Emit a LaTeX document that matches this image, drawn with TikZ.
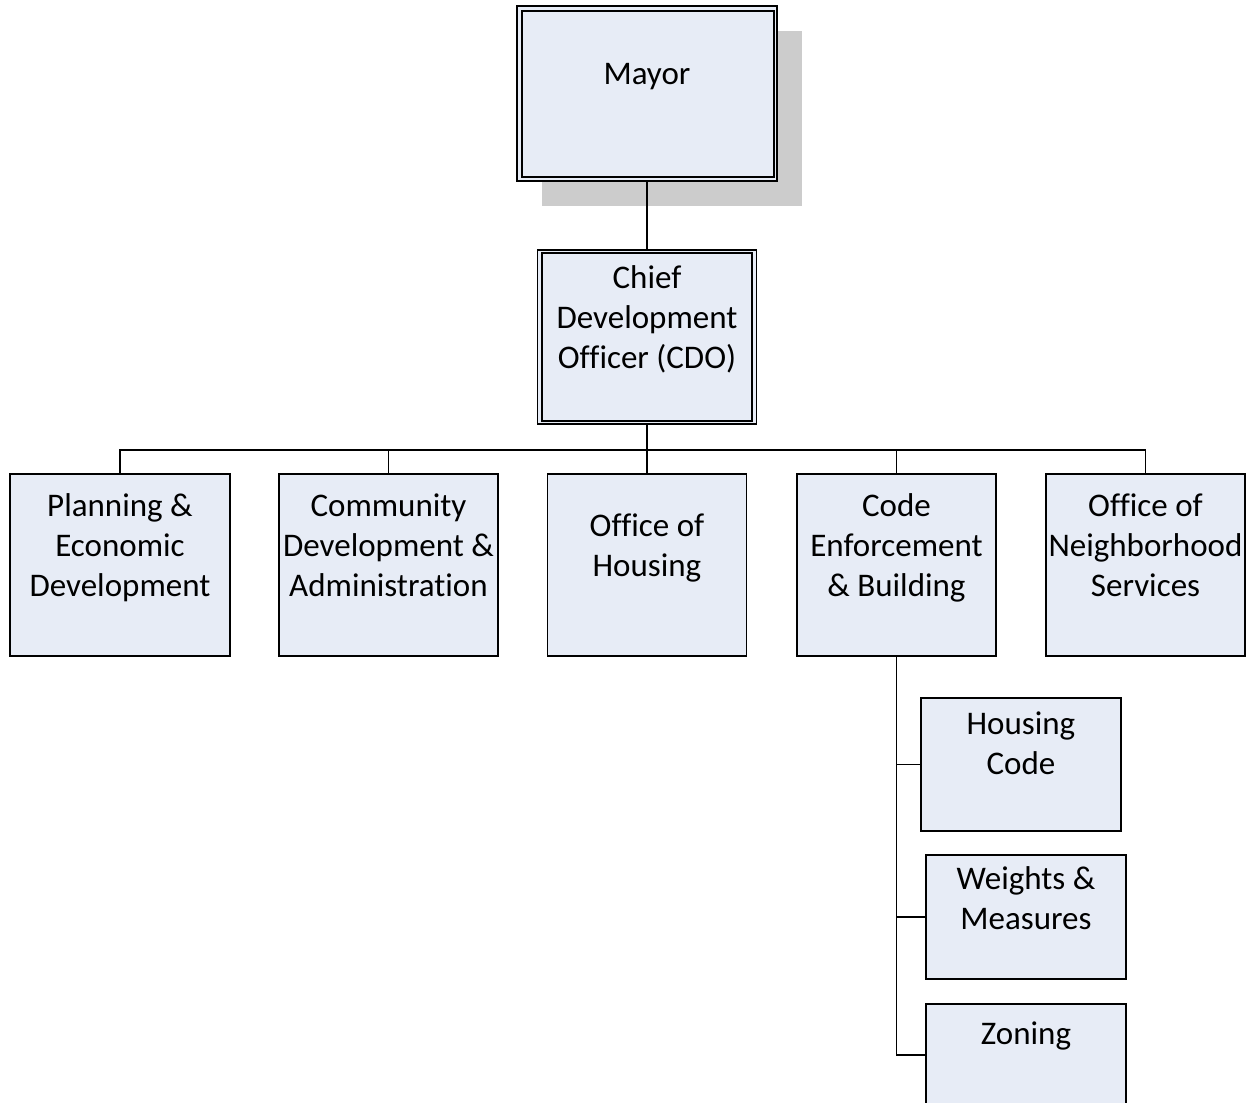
\documentclass[tikz,border=0pt]{standalone}
\usepackage{fontspec}
\setmainfont{Carlito}[Ligatures=NoCommon]
\usetikzlibrary{shadows,calc}
\definecolor{boxfill}{HTML}{E7ECF6}
\definecolor{shadowgray}{HTML}{CCCCCC}
\begin{document}
\begin{tikzpicture}[x=1pt,y=-1pt,
  box/.style={draw=black, line width=1.5pt, fill=boxfill, rectangle, inner sep=0pt},
  txt/.style={font=\fontsize{33}{40}\selectfont, align=center, inner sep=0pt},
  conn/.style={draw=black, line width=1.6pt},
  innerline/.style={draw=black, line width=2pt}]
\clip (0,0) rectangle (1251,1103);
% top level
\node[box, minimum width=260pt, minimum height=175pt,
      drop shadow={shadow xshift=25pt, shadow yshift=-25pt, fill=shadowgray, opacity=1}] (mayor) at (647,93.5) {};
\draw[innerline] ([shift={(6,6)}]mayor.north west) rectangle ([shift={(-4,-5)}]mayor.south east);
\node[txt] (mayorT) at (647,76) {\strut Mayor\strut};
% CDO
\node[box, minimum width=219pt, minimum height=174pt] (cdo) at (647,337) {};
\draw[innerline] ([shift={(5,4)}]cdo.north west) rectangle ([shift={(-5,-4)}]cdo.south east);
\node[txt] (cdoT) at (647,320) {\strut Chief\\Development\\Officer (CDO)\strut};
% second level
\node[box, minimum width=220pt, minimum height=182pt] (plan) at (120,565) {};
\node[box, minimum width=219pt, minimum height=182pt] (comm) at (388.5,565) {};
\node[box, minimum width=199pt, minimum height=182pt] (hous) at (647,565) {};
\node[box, minimum width=199pt, minimum height=182pt] (code) at (896.5,565) {};
\node[box, minimum width=199pt, minimum height=182pt] (nbhd) at (1145.5,565) {};
\node[txt] (planT) at (120,548) {\strut Planning \&\\Economic\\Development\strut};
\node[txt] (commT) at (388.5,548) {\strut Community\\Development \&\\Administration\strut};
\node[txt] (housT) at (647,548) {\strut Office of\\Housing\strut};
\node[txt] (codeT) at (896.5,548) {\strut Code\\Enforcement\\\& Building\strut};
\node[txt] (nbhdT) at (1145.5,548) {\strut Office of\\Neighborhood\\Services\strut};
% third level
\node[box, minimum width=200pt, minimum height=133pt] (hc) at (1021,764.5) {};
\node[box, minimum width=200pt, minimum height=124pt] (wm) at (1026,917) {};
\node[box, minimum width=200pt, minimum height=102pt] (zon) at (1026,1055) {};
\node[txt] (hcT) at (1021,746) {\strut Housing\\Code\strut};
\node[txt] (wmT) at (1026,901) {\strut Weights \&\\Measures\strut};
\node[txt] (zonT) at (1026,1036) {\strut Zoning\strut};
% connectors
\draw[conn] (mayor.south) -- (cdo.north);
\coordinate (bus) at (647,450);
\foreach \n in {plan,comm,hous,code,nbhd} {
  \draw[conn] (cdo.south) -- (bus) -| (\n.north);
}
\foreach \n in {hc,wm,zon} {
  \draw[conn] (code.south) |- (\n.west);
}
\end{tikzpicture}
\end{document}
